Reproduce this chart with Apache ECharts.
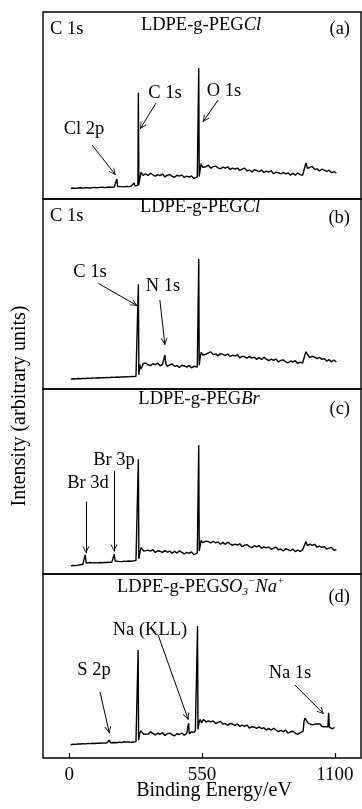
<!DOCTYPE html>
<html>
<head>
<meta charset="utf-8">
<script src="https://cdn.jsdelivr.net/npm/echarts@6/dist/echarts.min.js"></script>
<style>
  html, body { margin: 0; padding: 0; background: #fff; }
  #chart { width: 362px; height: 809px; }
</style>
</head>
<body>
<div id="chart"></div>
<script>
// XPS survey spectra, binding energy (eV) vs intensity (arbitrary units, 0-100 per panel)
const tickValues = [0, 550, 1100];

const spectrumA = [
  [6,5.6],[16,5.9],[26,5.7],[36,5.9],[46,6.0],[56,5.8],[66,6.0],[76,6.1],[86,5.9],[96,6.1],
  [106,6.2],[116,6.0],[126,6.2],[136,6.3],[146,6.1],[156,6.3],[166,6.4],[176,6.2],[186,6.4],[194,6.5],
  [197,10.7],[200,6.6],[206,6.4],[216,6.6],[226,6.5],[236,6.7],[246,6.6],[256,6.9],[264,6.8],[268,8.6],
  [272,7.0],[280,7.1],[284,7.3],[286,56.8],[288,7.6],[292,10.8],[297,14.2],[302,14.0],[306,12.6],
  [316,13.5],[326,12.55],[336,13.8],[346,12.95],[356,12.2],[366,13.05],[376,12.5],[386,13.35],[396,11.8],
  [406,12.75],[416,13.1],[426,12.1],[436,11.65],[446,12.7],[456,12.2],[466,12.9],[476,11.5],[486,12.2],
  [496,11.7],[506,12.3],[516,11.0],[524,11.7],[530,11.8],[534,11.0],[536,70.0],[538,12.0],[542,15.9],
  [546,18.9],[552,17.0],[560,17.9],[566,17.28],[576,18.07],[586,16.45],[596,17.33],[606,17.61],[616,16.6],
  [626,16.08],[636,17.06],[646,16.54],[656,17.23],[666,15.81],[676,16.49],[686,15.97],[696,16.56],[706,15.24],
  [716,15.92],[726,16.5],[736,15.09],[746,15.47],[756,14.45],[766,15.63],[776,15.22],[786,14.6],[796,15.48],
  [806,14.16],[816,14.95],[826,14.33],[836,15.11],[846,13.49],[856,14.38],[866,14.06],[876,13.44],[886,14.32],
  [896,13.41],[906,13.99],[916,12.77],[926,13.75],[936,12.74],[946,13.92],[956,13.0],[966,12.6],[972,13.5],
  [976,17.4],[980,19.3],[986,16.4],[996,16.95],[1006,17.4],[1016,15.85],[1026,16.1],[1036,14.95],[1046,16.0],
  [1056,15.45],[1066,14.7],[1076,15.45],[1086,14.0],[1096,14.65],[1106,13.9]
];

const spectrumB = [
  [6,5.2],[16,5.4],[26,5.3],[36,5.5],[46,5.4],[56,5.6],[66,5.5],[76,5.7],[86,5.6],[96,5.8],
  [106,5.7],[116,5.9],[126,5.8],[136,6.0],[146,5.9],[156,6.1],[166,6.0],[176,6.2],[186,6.1],[196,6.3],
  [206,6.2],[216,6.4],[226,6.3],[236,6.5],[246,6.4],[256,6.6],[266,6.5],[276,6.7],[282,6.8],[284,7.0],
  [286,55.1],[288,7.5],[292,12.8],[296,10.6],[302,11.8],[306,13.4],[316,13.7],[326,12.75],[336,12.3],
  [346,13.3],[356,12.85],[366,13.6],[376,12.2],[386,12.95],[392,12.5],[396,17.9],[400,13.15],[406,11.9],
  [416,12.65],[426,13.25],[436,11.9],[446,12.3],[456,11.3],[466,12.5],[476,12.15],[486,11.55],[496,12.45],
  [506,11.15],[516,11.95],[524,11.35],[530,11.6],[534,11.4],[536,68.4],[538,12.5],[542,16.8],[546,19.3],
  [552,17.9],[560,18.8],[566,18.3],[576,18.97],[586,19.54],[596,18.11],[606,18.48],[616,17.45],[626,18.62],
  [636,18.19],[646,17.56],[656,18.43],[666,17.1],[676,17.87],[686,17.24],[696,18.01],[706,16.38],[716,17.25],
  [726,16.92],[736,16.29],[746,17.16],[756,16.23],[766,16.8],[776,15.57],[786,16.54],[796,15.51],[806,16.68],
  [816,15.75],[826,14.92],[836,15.69],[846,15.06],[856,15.83],[866,14.2],[876,15.07],[886,15.34],[896,14.31],
  [906,13.78],[916,14.75],[926,14.22],[936,14.89],[946,13.46],[956,14.13],[966,13.6],[972,14.2],[976,18.0],
  [980,19.6],[986,18.3],[996,16.52],[1006,17.23],[1016,16.75],[1026,15.97],[1036,16.68],[1046,15.6],
  [1056,16.02],[1066,14.63],[1076,15.45],[1086,14.27],[1096,15.28],[1106,14.2]
];

const spectrumC = [
  [6,4.4],[16,4.6],[26,4.5],[36,4.8],[46,5.0],[56,5.3],[62,5.6],[66,10.3],[70,5.9],[76,6.0],
  [86,6.2],[96,6.0],[106,6.1],[116,6.0],[126,6.2],[136,6.1],[146,6.3],[156,6.2],[166,6.4],[176,6.3],
  [182,6.6],[186,10.8],[190,7.0],[196,6.6],[206,6.8],[216,6.7],[226,6.9],[236,6.8],[246,7.0],[256,6.9],
  [266,7.1],[276,7.3],[282,7.5],[284,7.8],[286,62.0],[288,8.2],[292,11.5],[297,14.3],[302,13.6],[308,12.4],
  [316,12.1],[326,12.93],[336,12.36],[346,13.19],[356,11.62],[366,12.55],[376,12.28],[386,11.71],[396,12.64],
  [406,11.77],[416,12.4],[426,11.23],[436,12.26],[446,11.29],[456,12.52],[466,11.65],[476,10.88],[486,11.71],
  [496,11.14],[506,11.97],[516,10.4],[524,11.33],[530,11.4],[534,11.9],[536,69.7],[538,12.4],[542,15.6],
  [546,18.2],[552,16.9],[560,17.6],[566,17.8],[576,17.47],[586,16.84],[596,17.7],[606,16.77],[616,17.34],
  [626,16.11],[636,17.07],[646,16.04],[656,17.21],[666,16.28],[676,15.44],[686,16.21],[696,15.58],[706,16.35],
  [716,14.71],[726,15.58],[736,15.85],[746,14.82],[756,14.28],[766,15.25],[776,14.72],[786,15.39],[796,13.95],
  [806,14.62],[816,14.09],[826,14.66],[836,13.32],[846,13.99],[856,14.56],[866,13.13],[876,13.49],[886,12.46],
  [896,13.63],[906,13.2],[916,12.56],[926,13.43],[936,12.1],[946,12.87],[956,12.23],[966,13.0],[972,13.0],
  [976,16.2],[980,17.5],[986,15.3],[996,16.15],[1006,15.5],[1016,16.05],[1026,14.5],[1036,15.05],[1046,14.4],
  [1056,14.85],[1066,13.4],[1076,13.95],[1086,14.4],[1096,12.85],[1106,13.1]
];

const spectrumD = [
  [6,7.2],[16,7.5],[26,7.4],[36,7.7],[46,7.6],[56,7.8],[66,7.7],[76,7.9],[86,7.8],[96,8.0],
  [106,7.9],[116,8.1],[126,8.0],[136,8.2],[146,8.1],[156,8.3],[162,8.2],[166,9.8],[170,8.3],[176,8.2],
  [186,8.4],[196,8.3],[206,8.6],[216,8.4],[226,8.8],[232,9.1],[236,8.6],[246,8.8],[256,8.5],[266,8.7],
  [276,8.9],[282,8.8],[283,9.2],[285,58.7],[287,9.6],[291,13.2],[296,14.8],[302,14.0],[308,12.9],
  [316,13.9],[326,12.95],[336,14.2],[346,13.35],[356,12.6],[366,13.45],[376,12.9],[386,13.75],[396,12.2],
  [406,13.15],[416,13.5],[426,12.55],[436,12.1],[446,13.18],[456,12.76],[466,13.6],[476,12.4],[486,13.3],
  [492,13.0],[494,18.9],[497,13.2],[506,14.3],[516,13.8],[522,14.9],[527,14.1],[529,14.8],[531,71.7],
  [533,15.5],[537,19.3],[542,20.9],[548,19.2],[556,21.0],[566,19.53],[576,20.16],[586,19.59],[596,20.12],
  [606,18.75],[616,19.38],[626,19.91],[636,18.44],[646,18.77],[656,17.7],[666,18.83],[676,18.36],[686,17.69],
  [696,18.52],[706,17.15],[716,17.88],[726,17.21],[736,17.94],[746,16.27],[756,17.1],[766,16.73],[776,16.06],
  [786,16.89],[796,15.92],[806,16.45],[816,15.18],[826,16.11],[836,15.04],[846,16.17],[856,15.2],[866,14.33],
  [876,15.06],[886,14.39],[896,15.12],[906,13.45],[916,14.28],[926,14.51],[936,13.44],[946,12.87],[956,13.8],
  [964,13.2],[968,14.5],[972,19.8],[976,21.6],[982,20.4],[990,18.86],[998,19.12],[1006,17.99],[1014,19.05],
  [1022,18.51],[1030,17.77],[1038,18.53],[1046,17.1],[1054,17.76],[1062,17.02],[1068,17.74],[1071,16.9],
  [1074,24.6],[1077,16.6],[1084,17.3],[1090,15.9],[1098,16.6]
];

// arrows: [startEnergy, startIntensity, endEnergy, endIntensity]
const arrowsA = [[94, 28.9, 192, 12.8], [359, 51.3, 293, 37.4], [616, 52.9, 553, 41.2]];
const arrowsB = [[120, 55.6, 282, 43.8], [375, 46.8, 396, 23.2]];
const arrowsC = [[69, 39.1, 69, 11.2], [185, 55.8, 185, 12.1]];
const arrowsD = [[127, 36.0, 166, 13.4], [368, 66.8, 493, 20.7], [934, 39.7, 1054, 23.9]];

const chart = echarts.init(document.getElementById('chart'));

const FONT = '"Liberation Serif", "Times New Roman", serif';
const panels = [
  { top: 12, height: 187, data: spectrumA, arrows: arrowsA },
  { top: 199, height: 190, data: spectrumB, arrows: arrowsB },
  { top: 389, height: 185, data: spectrumC, arrows: arrowsC },
  { top: 574, height: 184, data: spectrumD, arrows: arrowsD }
];

// open V head, tip at the middle of the symbol box so it ends on the line end
const arrowHead = 'path://M5,10 L10,20 L8.7,20 L5,12.6 L1.3,20 L0,20 Z M5,0 L5.02,0.02 L4.98,0.02 Z';

const grids = panels.map(p => ({
  left: 43, width: 318, top: p.top, height: p.height,
  show: true, borderColor: '#000', borderWidth: 1.4, backgroundColor: 'transparent',
  outerBoundsMode: 'none'
}));

const xAxes = panels.map((p, i) => {
  const last = i === panels.length - 1;
  return {
    type: 'value', gridIndex: i, min: -109, max: 1208,
    axisLine: { show: false },
    splitLine: { show: false },
    axisTick: {
      show: last, inside: true, length: 5, customValues: tickValues,
      lineStyle: { color: '#000', width: 1.2 }
    },
    axisLabel: {
      show: last, customValues: tickValues, margin: 8,
      color: '#000', fontSize: 19, fontFamily: FONT,
      formatter: v => String(v)
    }
  };
});

const yAxes = panels.map((p, i) => ({
  type: 'value', gridIndex: i, min: 0, max: 100, show: false
}));

const series = panels.map((p, i) => ({
  type: 'line', xAxisIndex: i, yAxisIndex: i,
  data: p.data, showSymbol: false, symbol: 'none',
  lineStyle: { color: '#000', width: 1.4 },
  markLine: {
    silent: true,
    symbol: ['none', arrowHead],
    symbolSize: [7, 14],
    label: { show: false },
    lineStyle: { color: '#000', width: 1, type: 'solid' },
    data: p.arrows.map(a => [{ coord: [a[0], a[1]] }, { coord: [a[2], a[3]] }])
  }
}));

function txt(x, y, text, align, size, rich) {
  return {
    type: 'text', x: x, y: y, silent: true,
    style: {
      text: text, fill: '#000', fontSize: size || 18.5, fontFamily: FONT,
      textAlign: align || 'center', textVerticalAlign: 'middle', rich: rich
    }
  };
}

const titleRich = {
  n: { fontSize: 18.5, fontFamily: FONT, lineHeight: 22 },
  i: { fontSize: 18.5, fontFamily: FONT, fontStyle: 'italic', lineHeight: 22 },
  sub: { fontSize: 11, fontFamily: FONT, fontStyle: 'italic', lineHeight: 11, verticalAlign: 'bottom' },
  sup: { fontSize: 11, fontFamily: FONT, fontStyle: 'italic', lineHeight: 11, verticalAlign: 'top' }
};

const graphics = [
  // panel a
  txt(50, 29, 'C 1s', 'left'),
  txt(201, 25, '{n|LDPE-g-PEG}{i|Cl}', 'center', 18.5, titleRich),
  txt(350, 29, '(a)', 'right'),
  txt(84, 129, 'Cl 2p'),
  txt(165, 93, 'C 1s'),
  txt(224, 91, 'O 1s'),
  // panel b
  txt(50, 216, 'C 1s', 'left'),
  txt(200, 207, '{n|LDPE-g-PEG}{i|Cl}', 'center', 18.5, titleRich),
  txt(350, 218, '(b)', 'right'),
  txt(90, 272, 'C 1s'),
  txt(163, 286, 'N 1s'),
  // panel c
  txt(199, 399, '{n|LDPE-g-PEG}{i|Br}', 'center', 18.5, titleRich),
  txt(350, 409, '(c)', 'right'),
  txt(114, 460, 'Br 3p'),
  txt(88, 483, 'Br 3d'),
  // panel d
  txt(117, 587, '{n|LDPE-g-PEG}{i|SO}{sub|3}{sup|−}{i|Na}{sup|+}', 'left', 18.5, titleRich),
  txt(350, 597, '(d)', 'right'),
  txt(150, 630, 'Na (KLL)'),
  txt(94, 670, 'S 2p'),
  txt(290, 673, 'Na 1s'),
  // axis titles
  txt(214, 791, 'Binding Energy/eV', 'center', 20),
  Object.assign(txt(20, 406, 'Intensity (arbitrary units)', 'center', 20), { rotation: Math.PI / 2 })
];

chart.setOption({
  animation: false,
  backgroundColor: '#fff',
  grid: grids,
  xAxis: xAxes,
  yAxis: yAxes,
  series: series,
  graphic: graphics
});
</script>
</body>
</html>
